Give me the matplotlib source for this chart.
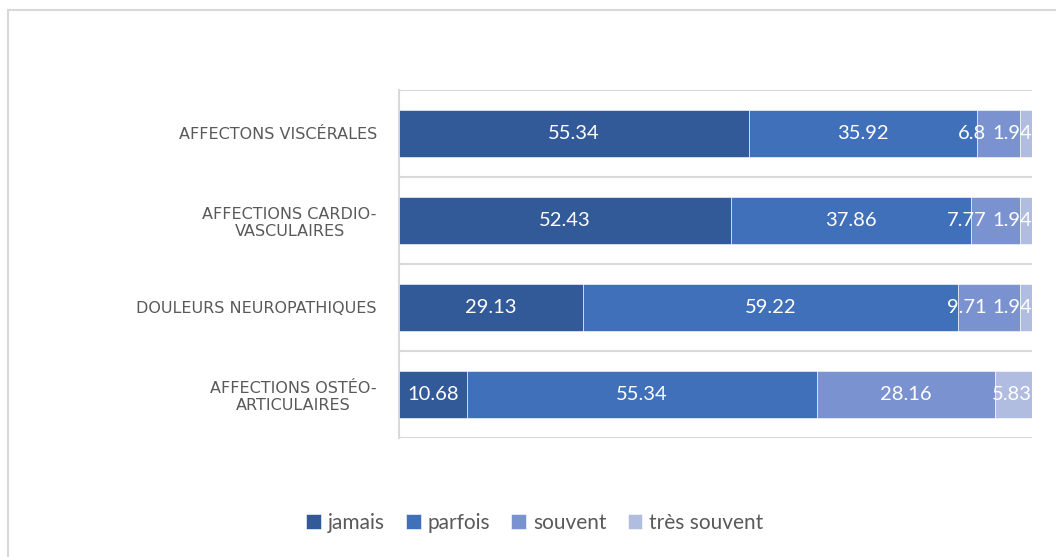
import matplotlib
matplotlib.use("Agg")
import matplotlib.pyplot as plt
from matplotlib.lines import Line2D
import numpy as np

categories = ["AFFECTIONS OSTÉO-\nARTICULAIRES", "DOULEURS NEUROPATHIQUES",
              "AFFECTIONS CARDIO-\nVASCULAIRES", "AFFECTONS VISCÉRALES"]
series_names = ["jamais", "parfois", "souvent", "très souvent"]
jamais = [10.68, 29.13, 52.43, 55.34]
parfois = [55.34, 59.22, 37.86, 35.92]
souvent = [28.16, 9.71, 7.77, 6.8]
tres_souvent = [5.83, 1.94, 1.94, 1.94]
colors = ["#335A98", "#4170BA", "#7A93D0", "#B1BDE0"]

plt.rcParams['font.family'] = ['Lato', 'DejaVu Sans']

fig = plt.figure(figsize=(10.56, 5.57), dpi=100)
ax = fig.add_axes([399/1056, 1-438/557, (1032-399)/1056, (438-90)/557])

y = np.arange(len(categories))
left = np.zeros(len(categories))
labels = [[] for _ in categories]
for name, vals, c in zip(series_names, [jamais, parfois, souvent, tres_souvent], colors):
    vals = np.array(vals)
    ax.barh(y, vals, left=left, height=0.55, color=c, label=name,
            edgecolor="white", linewidth=0.4, zorder=3)
    for i, (yi, l, v) in enumerate(zip(y, left, vals)):
        t = ax.text(l + v/2, yi, f"{v:g}", ha="center", va="center",
                    color="white", fontsize=14.5, zorder=4, clip_on=True)
        labels[i].append(t)
    left = left + vals

ax.set_xlim(0, 100)
ax.set_ylim(-0.5, len(categories) - 0.5)
ax.set_yticks(y)
ax.set_yticklabels(categories, fontsize=11.5, color="#595959", family=['DejaVu Sans'],
                   multialignment="center")
ax.tick_params(axis="y", length=0, pad=16)
ax.set_xticks([])
for b in np.arange(-0.5, len(categories), 1.0):
    ax.axhline(b, color="#D9D9D9", lw=1.5, zorder=1)
for s in ["top", "right", "bottom"]:
    ax.spines[s].set_visible(False)
ax.spines["left"].set_color("#D9D9D9")
ax.spines["left"].set_linewidth(1.5)

leg = fig.legend(loc="center", bbox_to_anchor=(535/1056, 1-523/557), ncol=4, frameon=False,
                 fontsize=15, handlelength=0.7, handleheight=0.7, handletextpad=0.35,
                 columnspacing=1.0)
for t in leg.get_texts():
    t.set_color("#595959")

# keep data labels inside the plot area and avoid overlaps (shift left)
fig.canvas.draw()
r = fig.canvas.get_renderer()
inv = ax.transData.inverted()
ax_right = ax.get_window_extent(r).x1
gap = 6


def shift_left(t, dx):
    x0, y0 = t.get_position()
    px = ax.transData.transform((x0, y0))
    t.set_x(inv.transform((px[0] - dx, px[1]))[0])


for row in labels:
    last = row[-1].get_window_extent(r)
    if last.x1 > ax_right:
        shift_left(row[-1], last.x1 - ax_right)
    for k in range(len(row) - 2, -1, -1):
        a = row[k].get_window_extent(r)
        b = row[k + 1].get_window_extent(r)
        if a.x1 + gap > b.x0:
            shift_left(row[k], a.x1 + gap - b.x0)

# chart area border
fig.add_artist(Line2D([8/1056, 1.01], [1-10/557, 1-10/557], color="#D9D9D9", lw=1.5))
fig.add_artist(Line2D([8/1056, 8/1056], [1-10/557, -0.01], color="#D9D9D9", lw=1.5))

fig.savefig("out.png", dpi=100)
